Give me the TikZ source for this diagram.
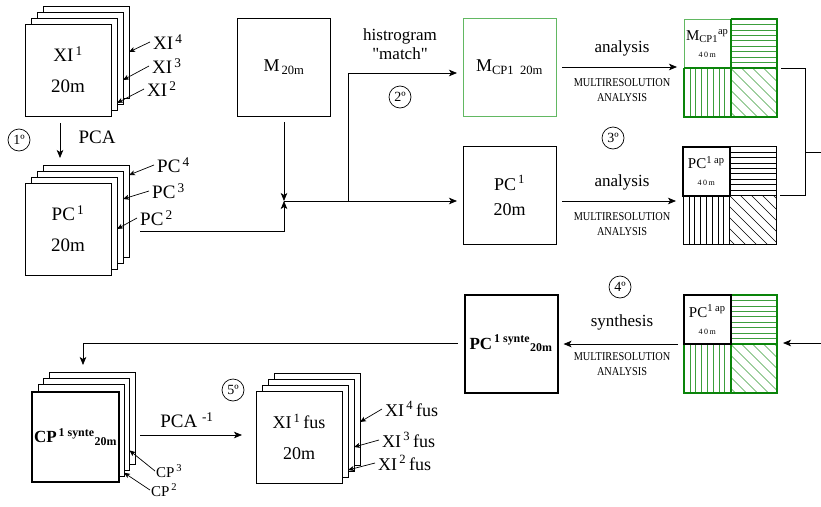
\documentclass[tikz,border=0pt]{standalone}
\usepackage{fontspec}
\setmainfont{Liberation Serif}
\newfontfamily\condfont[FakeStretch=0.86]{Liberation Serif}
\newfontfamily\spacedfont[LetterSpace=18]{Liberation Serif}
\usetikzlibrary{arrows.meta,calc}
\definecolor{darkgrn}{HTML}{0A840A}
\definecolor{lightgrn}{HTML}{62B862}
\definecolor{hatchgrn}{HTML}{3C9E3C}

\begin{document}
\begin{tikzpicture}[x=1pt,y=-1pt,
  sheet/.style={draw,fill=white,line width=.8pt,minimum width=86pt,minimum height=92pt,
    inner sep=0pt,outer sep=0pt,align=center,font=\fontsize{19}{31}\selectfont},
  panel/.style={draw,line width=.8pt,minimum width=93pt,minimum height=98pt,
    inner sep=0pt,outer sep=0pt,align=center,font=\fontsize{18}{25}\selectfont},
  quad/.style={minimum width=93pt,minimum height=98pt,inner sep=0pt,outer sep=0pt},
  qcorner/.style={fill=white,minimum width=46.5pt,minimum height=49pt,inner sep=0pt,
    outer sep=0pt,align=center,font=\fontsize{15}{17}\selectfont},
  tag/.style={anchor=west,inner sep=3pt,font=\fontsize{19}{20}\selectfont},
  stagemark/.style={draw,circle,line width=.7pt,minimum size=22pt,inner sep=0pt,
    font=\fontsize{14}{14}\selectfont},
  flow/.style={-{Stealth[length=8pt,width=6.5pt,inset=2pt]},line width=.8pt},
  pointer/.style={-{Stealth[length=6pt,width=5pt,inset=1.5pt]},line width=.7pt},
  mra/.style={font=\condfont\fontsize{12}{15}\selectfont,align=center},
  verb/.style={font=\fontsize{17}{19}\selectfont,align=center}
]
\useasboundingbox (0,0) rectangle (821,506);

% stacked images
\foreach \k in {4,3,2} {
  \node[sheet] (xi\k) at ({68+6*(\k-1)},{70-6*(\k-1)}) {};
  \node[sheet] (pc\k) at ({68+6*(\k-1)},{229-6*(\k-1)}) {};
  \node[sheet] (cp\k) at ({75.5+5.5*(\k-1)},{437-6.3*(\k-1)}) {};
  \node[sheet] (fu\k) at ({299+6*(\k-1)},{437-6*(\k-1)}) {};
}
\node[sheet] (xi1) at (68,70) {XI\textsuperscript{\,1}\\20m};
\node[sheet] (pc1) at (68,229) {PC\textsuperscript{\,1}\\20m};
\node[sheet,line width=2pt,minimum width=87pt,minimum height=90pt,
  font=\bfseries\fontsize{17}{20}\selectfont] (cp1) at (75.5,437)
  {CP\textsuperscript{\,1 synte}\textsubscript{20m}};
\node[sheet,font=\fontsize{18}{31}\selectfont] (fu1) at (299,437) {XI\textsuperscript{\,1}\,fus\\20m};

% band labels
\node[tag] (x4) at (150,42) {XI\textsuperscript{\,4}};
\node[tag] (x3) at (149,66) {XI\textsuperscript{\,3}};
\node[tag] (x2) at (144,89) {XI\textsuperscript{\,2}};
\draw[pointer] (x4.west) -- (xi4.east);
\draw[pointer] (x3.west) -- ([yshift=-22pt]xi3.east);
\draw[pointer] (x2.west) -- ([yshift=-39pt]xi2.east);

\node[tag] (p4) at (154,165) {PC\textsuperscript{\,4}};
\node[tag] (p3) at (149,191) {PC\textsuperscript{\,3}};
\node[tag] (p2) at (137,218) {PC\textsuperscript{\,2}};
\draw[pointer] (p4.west) -- ([yshift=36pt]pc4.east);
\draw[pointer] (p3.west) -- ([yshift=18pt]pc3.east);
\draw[pointer] (p2.west) -- ([yshift=-6pt]pc2.east);

\node[tag,inner sep=1pt,font=\fontsize{15}{16}\selectfont] (c3) at (155,471) {CP\textsuperscript{\,3}};
\node[tag,inner sep=1pt,font=\fontsize{15}{16}\selectfont] (c2) at (150,490) {CP\textsuperscript{\,2}};
\draw[pointer] (c3.west) -- ([yshift=-26pt]cp3.east);
\draw[pointer] (c2.west) -- ([yshift=-42pt]cp2.east);

\node[tag,font=\fontsize{18}{20}\selectfont] (f4) at (382,409) {XI\textsuperscript{\,4}\,fus};
\node[tag,font=\fontsize{18}{20}\selectfont] (f3) at (379,440) {XI\textsuperscript{\,3}\,fus};
\node[tag,font=\fontsize{18}{20}\selectfont] (f2) at (375,463) {XI\textsuperscript{\,2}\,fus};
\draw[pointer] (f4.west) -- ([yshift=-3pt]fu4.east);
\draw[pointer] (f3.west) -- ([yshift=-22pt]fu3.east);
\draw[pointer] (f2.west) -- ([yshift=-39pt]fu2.east);

% single images
\node[panel] (mb) at (284,67) {M\textsubscript{\,20m}};
\node[panel,draw=lightgrn] (mcp) at (509.5,67) {M\textsubscript{CP1\ \ 20m}};
\node[panel] (pcb) at (509.5,195.5) {PC\textsuperscript{\,1}\\20m};
\node[panel,line width=2pt,font=\bfseries\fontsize{17}{20}\selectfont] (syn) at (511,343.5)
  {PC\textsuperscript{\,1 synte}\textsubscript{20m}};

% wavelet planes
\node[quad] (q1) at (730.5,68) {};
\node[quad] (q2) at (729.5,195.5) {};
\node[quad] (q3) at (730.5,344) {};
\foreach \q/\hc in {q1/hatchgrn,q2/black,q3/hatchgrn} {
  \foreach \k in {1,...,8}
    \draw[\hc,line width=.6pt] ($(\q.north)!\k/9!(\q.center)$) -- ($(\q.north east)!\k/9!(\q.east)$);
  \foreach \k in {1,...,7}
    \draw[\hc,line width=.6pt] ($(\q.west)!\k/8!(\q.center)$) -- ($(\q.south west)!\k/8!(\q.south)$);
  \begin{scope}
    \clip (\q.center) rectangle (\q.south east);
    \foreach \d in {-5,...,4}
      \draw[\hc,line width=.6pt] ($(\q.center)+(\d*11,0)$) -- ++(55,55);
  \end{scope}
}
\node[qcorner,draw=lightgrn,line width=.8pt] (q1a) at ($(q1.center)!.5!(q1.north west)$)
  {M\textsubscript{CP1}\textsuperscript{ap}\\{\spacedfont\fontsize{8}{8}\selectfont 40m}};
\draw[darkgrn,line width=2pt] (q1.north) -- (q1.north east) -- (q1.south east) -- (q1.south west) -- (q1.west)
  (q1.north) -- (q1.south) (q1.west) -- (q1.east);
\draw[line width=.8pt] (q2.north west) rectangle (q2.south east) (q2.north) -- (q2.south) (q2.west) -- (q2.east);
\node[qcorner,draw,line width=2pt] (q2a) at ($(q2.center)!.5!(q2.north west)$)
  {PC\textsuperscript{1 ap}\\{\spacedfont\fontsize{8}{8}\selectfont 40m}};
\draw[darkgrn,line width=2pt] (q3.north west) rectangle (q3.south east) (q3.north) -- (q3.south) (q3.west) -- (q3.east);
\node[qcorner,draw,line width=2pt] (q3a) at ($(q3.center)!.5!(q3.north west)$)
  {PC\textsuperscript{1 ap}\\{\spacedfont\fontsize{8}{8}\selectfont 40m}};

% steps
\node[stagemark] (s1) at (19,140) {1º};
\node[stagemark] (s2) at (400,97) {2º};
\node[stagemark] (s3) at (613,138) {3º};
\node[stagemark] (s4) at (620,287) {4º};
\node[stagemark] (s5) at (233,390) {5º};

% flows
\coordinate (pcout) at (140,231);
\coordinate (jn) at (284,201);
\coordinate (br) at (348,201);
\coordinate (rt) at (805,152);
\coordinate (rout) at (821,152);
\coordinate (rin) at (821,343);
\coordinate (cpin) at (83,365);
\coordinate (pcal) at (140,435);

\draw[flow,shorten <=7pt,shorten >=7pt] ([xshift=-8pt]xi1.south) -- ([xshift=-8pt]xi1.south |- pc4.north);
\node[font=\fontsize{19}{20}\selectfont] (pca) at (97,137) {PCA};

\draw[flow,shorten <=6pt] (mb.south) -- (jn);
\draw[flow] (pcout) -| (jn);
\draw[flow,shorten >=6pt] (jn) -- (jn -| pcb.west);
\draw[flow,shorten >=6pt] (br) |- ([yshift=-6pt]mcp.west);
\node[verb] (hm) at (400,44) {histrogram\\\textquotedbl match\textquotedbl};

\draw[flow,shorten <=6pt,shorten >=7pt] (mcp.east) -- (mcp.east -| q1.west);
\draw[flow,shorten <=6pt,shorten >=7pt] ([yshift=-5.5pt]pcb.east) -- ([yshift=-5.5pt]pcb.east -| q2.west);
\node[verb] (an1) at (622,48) {analysis};
\node[mra] (mr1) at (622,90) {MULTIRESOLUTION\\ANALYSIS};
\node[verb] (an2) at (622,182) {analysis};
\node[mra] (mr2) at (622,224) {MULTIRESOLUTION\\ANALYSIS};

\draw[line width=.8pt,shorten <=4pt] (q1.east) -| (rt);
\draw[line width=.8pt,shorten <=4pt] (q2.east) -| (rt);
\draw[line width=.8pt] (rt) -- (rout);
\draw[flow,shorten >=6pt] (rin) -- (rin -| q3.east);

\draw[flow,shorten <=6pt,shorten >=6pt] (q3.west) -- (q3.west -| syn.east);
\node[verb] (sy) at (622,322) {synthesis};
\node[mra] (mr3) at (622,364) {MULTIRESOLUTION\\ANALYSIS};

\draw[flow,shorten <=7pt] (syn.west) -| (cpin);
\draw[flow,shorten >=14pt] (pcal) -- (pcal -| fu1.west);
\node[font=\fontsize{19}{20}\selectfont] (pcainv) at (187,420) {PCA \textsuperscript{-1}};
\end{tikzpicture}
\end{document}
